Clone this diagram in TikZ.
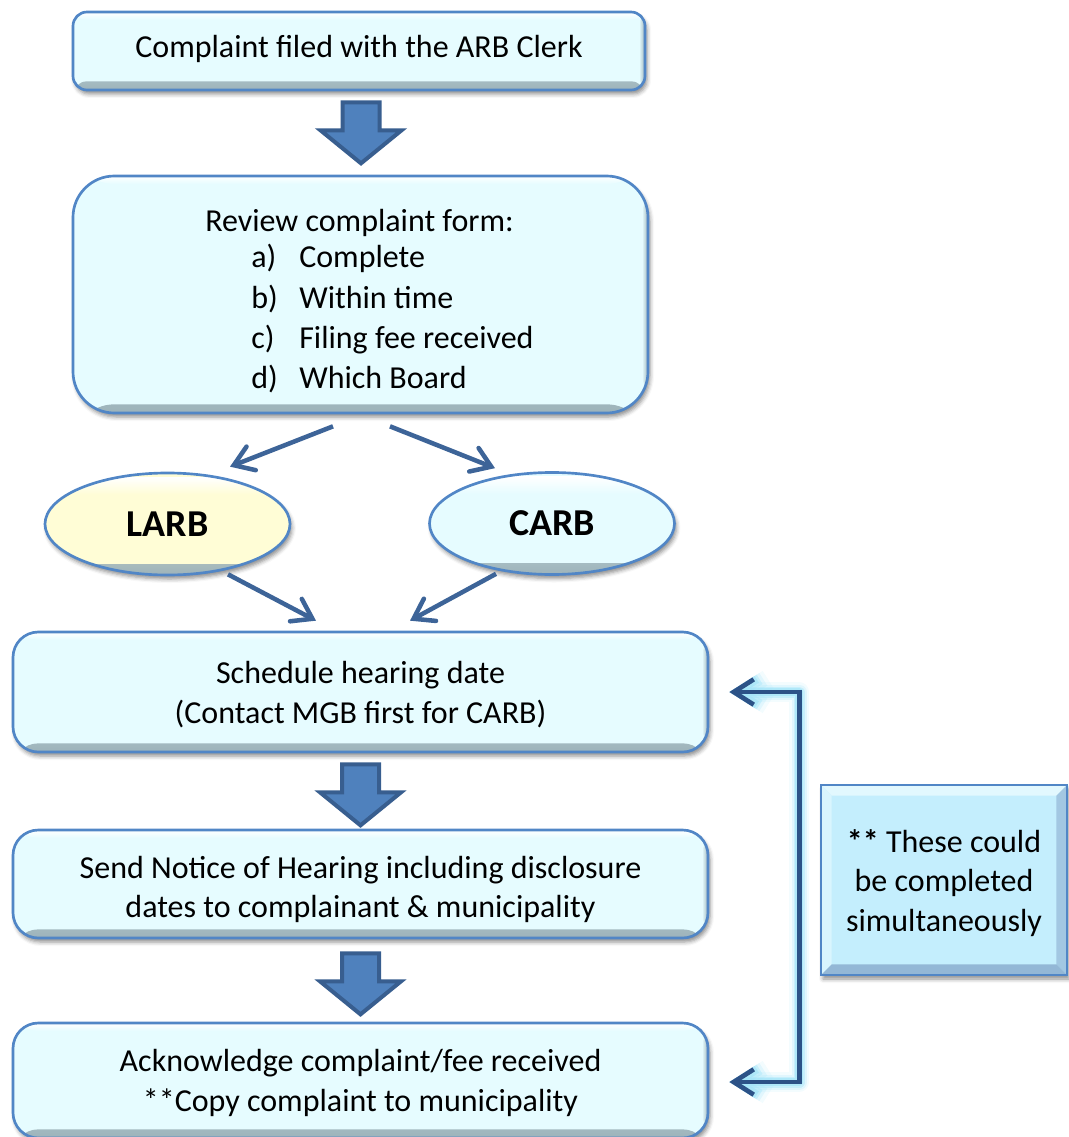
\documentclass[tikz,border=0pt]{standalone}
\usepackage{fontspec}
\setmainfont{Carlito}
\usetikzlibrary{shapes.geometric,arrows.meta,calc,shadows.blur}

\definecolor{boxfill}{HTML}{E6FCFF}
\definecolor{boxline}{HTML}{5186C6}
\definecolor{boxedge}{HTML}{9DB3BA}
\definecolor{larbfill}{HTML}{FFFDD6}
\definecolor{notefill}{HTML}{C4EEFD}
\definecolor{notelight}{HTML}{E2F8FE}
\definecolor{notedark}{HTML}{93B7D6}
\definecolor{arrowfill}{HTML}{4F81BD}
\definecolor{arrowline}{HTML}{385E8F}
\definecolor{connline}{HTML}{3D6498}
\definecolor{bracketline}{HTML}{2C5287}
\definecolor{glowcol}{HTML}{9FE3F8}

\def\ppb{path picture bounding box}
% centred lines of text, lowered by #1 without changing the reported size
\newcommand\lowtext[2]{\raisebox{-#1}[\height][\depth]{%
  \begin{tabular}{@{}c@{}}#2\end{tabular}}}

\tikzset{
  basefont/.style={font=\fontsize{24}{29.5}\selectfont},
  softshadow/.style={blur shadow={shadow xshift=1.5pt, shadow yshift=-3pt,
      shadow blur radius=3pt, shadow opacity=45}},
  % rounded process box with a light top rim and a darker lower/right rim
  stepbox/.style={draw=boxline, line width=2pt, fill=boxfill,
    rounded corners=#1, inner sep=0pt, basefont, align=center, softshadow,
    path picture={
      \shade[top color=boxfill, bottom color=boxedge]
        ([yshift=6.5pt]\ppb.south west) rectangle (\ppb.south east);
      \shade[left color=boxfill, right color=boxedge]
        ([xshift=-4.5pt]\ppb.north east) rectangle (\ppb.south east);
      \shade[top color=white, bottom color=boxfill]
        (\ppb.north west) rectangle ([yshift=-6pt]\ppb.north east);
    }},
  boardoval/.style={ellipse, draw=boxline, line width=2pt, fill=#1,
    minimum width=245*0.75pt, minimum height=102*0.75pt, inner sep=0pt,
    font=\fontsize{28.5}{34}\selectfont\bfseries, softshadow,
    path picture={
      \shade[top color=#1, bottom color=boxedge]
        ([yshift=8pt]\ppb.south west) rectangle (\ppb.south east);
      \shade[top color=white, bottom color=#1]
        ([yshift=-3pt]\ppb.north west) rectangle ([yshift=-16pt]\ppb.north east);
    }},
  notebox/.style={draw=boxline, line width=1.5pt, fill=notefill,
    inner sep=0pt, basefont, align=center, softshadow,
    minimum width=246*0.75pt, minimum height=190*0.75pt,
    path picture={
      \fill[notelight] (\ppb.north west) -- (\ppb.north east)
        -- ([xshift=-8pt,yshift=-8pt]\ppb.north east)
        -- ([xshift=8pt,yshift=-8pt]\ppb.north west) -- cycle;
      \fill[notelight!70!notefill] (\ppb.north west) -- (\ppb.south west)
        -- ([xshift=8pt,yshift=8pt]\ppb.south west)
        -- ([xshift=8pt,yshift=-8pt]\ppb.north west) -- cycle;
      \fill[notedark!70!notefill] (\ppb.north east) -- (\ppb.south east)
        -- ([xshift=-8pt,yshift=8pt]\ppb.south east)
        -- ([xshift=-8pt,yshift=-8pt]\ppb.north east) -- cycle;
      \fill[notedark] (\ppb.south west) -- (\ppb.south east)
        -- ([xshift=-8pt,yshift=8pt]\ppb.south east)
        -- ([xshift=8pt,yshift=8pt]\ppb.south west) -- cycle;
    }},
  plaintext/.style={basefont, inner sep=0pt},
  blockarrow/.style={fill=arrowfill, draw=arrowline, line width=3pt,
    line join=miter},
  conn/.style={draw=connline, line width=3.4pt,
    -{Straight Barb[length=14pt,width=19pt,line cap=round]}},
  pics/blockdown/.style={code={
    \draw[blockarrow] (-18.5,0) -- (18.5,0) -- (18.5,28) -- (40.5,28)
      -- (0,61) -- (-40.5,28) -- (-18.5,28) -- cycle;}},
}

\begin{document}
\begin{tikzpicture}[x=0.75pt, y=-0.75pt]
\useasboundingbox (0,0) rectangle (1069,1137);

% process boxes
\node[stepbox=10.5pt, minimum width=572*0.75pt, minimum height=78*0.75pt]
  (filed) at (359,51) {\lowtext{-0.7pt}{Complaint filed with the ARB Clerk}};
\node[stepbox=31pt, minimum width=575*0.75pt, minimum height=237*0.75pt]
  (review) at (360.5,294.5) {};
\node[stepbox=19pt, minimum width=695*0.75pt, minimum height=120*0.75pt]
  (sched) at (360.5,692)
  {\lowtext{2.6pt}{Schedule hearing date\\(Contact MGB first for CARB)}};
\node[stepbox=19pt, minimum width=695*0.75pt, minimum height=108*0.75pt]
  (notice) at (360.5,884)
  {\lowtext{4.8pt}{Send Notice of Hearing including disclosure\\dates to complainant \& municipality}};
\node[stepbox=19pt, minimum width=695*0.75pt, minimum height=115*0.75pt]
  (ack) at (360.5,1080.5)
  {\lowtext{2.3pt}{Acknowledge complaint/fee received\\{}**Copy complaint to municipality}};

% review checklist
\node[plaintext, anchor=base] (rhead) at (359.5,232) {Review complaint form:};
\foreach \lab/\txt [count=\i] in {a)/Complete, b)/Within time,
    c)/Filing fee received, d)/Which Board} {
  \node[plaintext, anchor=base west] (lab\i) at (251,228+40*\i) {\lab};
  \node[plaintext, anchor=base west] (item\i) at (299,228+40*\i) {\txt};
}

% board choice
\node[boardoval=larbfill] (larb) at (167.5,524) {LARB};
\node[boardoval=boxfill] (carb) at (552,523.5) {CARB};

% note
\node[notebox] (note) at (944,880)
  {\lowtext{3pt}{\textbf{**} These could\\be completed\\simultaneously}};

% block arrows between steps
\pic (a1) at ($(filed.south)+(2,11)$) {blockdown};
\pic (a2) at ($(sched.south)+(0,11)$) {blockdown};
\pic (a3) at ($(notice.south)+(0,14)$) {blockdown};

% branches
\draw[conn] ($(review.south)+(-27.5,12)$) -- ($(larb.north)+(62.5,-5)$);
\draw[conn] ($(review.south)+(29.5,12)$) -- ($(carb.north)+(-57,-3)$);
\draw[conn] ($(larb.south)+(60.5,-2)$) -- ($(sched.north)+(-44.5,-10)$);
\draw[conn] ($(carb.south)+(-56,-2)$) -- ($(sched.north)+(49.5,-10)$);

% bracket tying the last steps together
\coordinate (brtop) at ($(sched.east)+(90,0)$);
\coordinate (brbot) at ($(ack.east)+(90,1.5)$);
\coordinate (tipA) at ($(sched.east)+(20,0)$);
\coordinate (tipB) at (tipA |- brbot);
\foreach \w/\o in {20/0.12, 15/0.22, 11/0.4, 8/0.6} {
  \draw[glowcol, opacity=\o, line width=\w*0.75pt, line join=round,
        {Straight Barb[length=15pt,width=19pt]}-{Straight Barb[length=15pt,width=19pt]}]
    (tipA) -- (brtop) -- (brbot) -- (tipB);
}
\draw[bracketline, line width=3.5pt, line join=miter,
      {Straight Barb[length=15pt,width=19pt]}-{Straight Barb[length=15pt,width=19pt]}]
  (tipA) -- (brtop) -- (brbot) -- (tipB);
\end{tikzpicture}
\end{document}
